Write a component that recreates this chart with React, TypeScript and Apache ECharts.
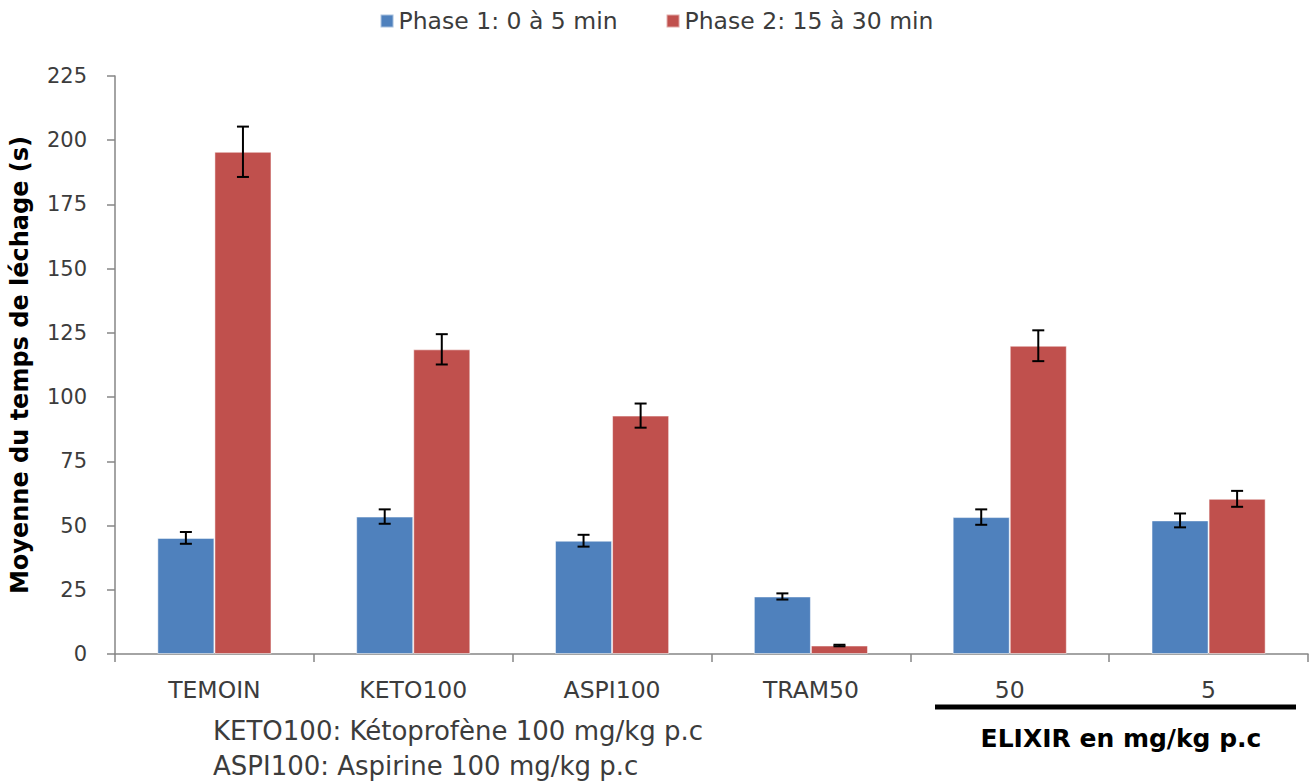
import React, { useEffect, useRef } from "react";
import * as echarts from "echarts";

const categories = ["TEMOIN", "KETO100", "ASPI100", "TRAM50", "50", "5"];
const phase1 = [45.2, 53.5, 44.1, 22.4, 53.3, 52.0];
const phase1Err = [2.3, 2.8, 2.3, 1.2, 3.0, 2.7];
const phase2 = [195.5, 118.6, 92.8, 3.3, 120.0, 60.4];
const phase2Err = [9.8, 5.9, 4.7, 0.3, 6.0, 3.1];
const yTicks = { min: 0, max: 225, interval: 25 };
const seriesNames = ["Phase 1: 0 à 5 min", "Phase 2: 15 à 30 min"];
const notes = ["KETO100: Kétoprofène 100 mg/kg p.c", "ASPI100: Aspirine 100 mg/kg p.c"];
const groupLabel = "ELIXIR en mg/kg p.c";
const yName = "Moyenne du temps de léchage (s)";

const BLUE = "#4F81BD";
const RED = "#C0504D";
const BAR_FRAC = 0.287;
const FONT = "DejaVu Sans";
const TXT = "#3c3c3c";

export default function App() {
  const ref = useRef<HTMLDivElement>(null);
  useEffect(() => {
    if (!ref.current) return;
    const chart = echarts.init(ref.current, null, { renderer: "svg" });
    const errData = (vals: number[], errs: number[]) => vals.map((v, i) => [i, v, errs[i]]);
    const errSeries = (vals: number[], errs: number[], side: number) => ({
      type: "custom",
      z: 10,
      silent: true,
      encode: { x: 0, y: 1 },
      data: errData(vals, errs),
      renderItem: (params: any, api: any) => {
        const idx = api.value(0);
        const mean = api.value(1);
        const err = api.value(2);
        const bandW = api.size([1, 0])[0];
        const dx = side * bandW * BAR_FRAC / 2;
        const top = api.coord([idx, mean + err]);
        const bot = api.coord([idx, mean - err]);
        const x = top[0] + dx;
        const cap = 6;
        const style = { stroke: "#000", lineWidth: 2 };
        return {
          type: "group",
          children: [
            { type: "line", shape: { x1: x, y1: top[1], x2: x, y2: bot[1] }, style },
            { type: "line", shape: { x1: x - cap, y1: top[1], x2: x + cap, y2: top[1] }, style },
            { type: "line", shape: { x1: x - cap, y1: bot[1], x2: x + cap, y2: bot[1] }, style },
          ],
        };
      },
    });
    chart.setOption({
      animation: false,
      textStyle: { fontFamily: FONT },
      legend: {
        data: seriesNames,
        top: 4,
        left: "center",
        icon: "rect",
        itemWidth: 13,
        itemHeight: 13,
        itemGap: 48,
        textStyle: { fontSize: 23.5, color: TXT, fontFamily: FONT },
      },
      grid: { left: 115, right: 5, top: 76, bottom: 127, containLabel: false },
      xAxis: {
        type: "category",
        data: categories,
        axisLine: { lineStyle: { color: "#868686", width: 1.5 } },
        axisTick: { show: true, interval: 0, length: 8, lineStyle: { color: "#868686", width: 1.5 } },
        axisLabel: { fontSize: 23.5, color: TXT, margin: 24, fontFamily: FONT, interval: 0 },
      },
      yAxis: {
        type: "value",
        min: yTicks.min,
        max: yTicks.max,
        interval: yTicks.interval,
        name: yName,
        nameLocation: "middle",
        nameRotate: 90,
        nameGap: 83,
        nameTextStyle: { fontSize: 24, fontWeight: "bold", color: "#000", fontFamily: FONT },
        axisLine: { show: true, lineStyle: { color: "#868686", width: 1.5 } },
        axisTick: { show: true, length: 8, lineStyle: { color: "#868686", width: 1.5 } },
        axisLabel: { fontSize: 21, color: TXT, margin: 28, fontFamily: FONT },
        splitLine: { show: false },
      },
      series: [
        {
          name: seriesNames[0],
          type: "bar",
          data: phase1,
          barWidth: (BAR_FRAC * 100).toFixed(1) + "%",
          barGap: "0%",
          itemStyle: { color: BLUE, borderColor: "rgba(255,255,255,0.5)", borderWidth: 1 },
        },
        {
          name: seriesNames[1],
          type: "bar",
          data: phase2,
          barWidth: (BAR_FRAC * 100).toFixed(1) + "%",
          barGap: "0%",
          itemStyle: { color: RED, borderColor: "rgba(255,255,255,0.5)", borderWidth: 1 },
        },
        errSeries(phase1, phase1Err, -1),
        errSeries(phase2, phase2Err, 1),
      ],
      graphic: [
        {
          type: "text",
          left: 213,
          top: 718,
          style: { text: notes[0], fontSize: 26, fill: TXT, fontFamily: FONT },
        },
        {
          type: "text",
          left: 213,
          top: 753,
          style: { text: notes[1], fontSize: 26, fill: TXT, fontFamily: FONT },
        },
        {
          type: "line",
          shape: { x1: 935, y1: 707, x2: 1296, y2: 707 },
          style: { stroke: "#000", lineWidth: 5 },
        },
        {
          type: "text",
          x: 1121,
          y: 738,
          style: {
            text: groupLabel,
            fontSize: 25,
            fontWeight: "bold",
            fill: "#000",
            fontFamily: FONT,
            align: "center",
            verticalAlign: "middle",
          },
        },
      ],
    });
    return () => chart.dispose();
  }, []);
  return (
    <div
      ref={ref}
      style={{ position: "fixed", left: 0, top: 0, width: 1313, height: 781, background: "#fff" }}
    />
  );
}
